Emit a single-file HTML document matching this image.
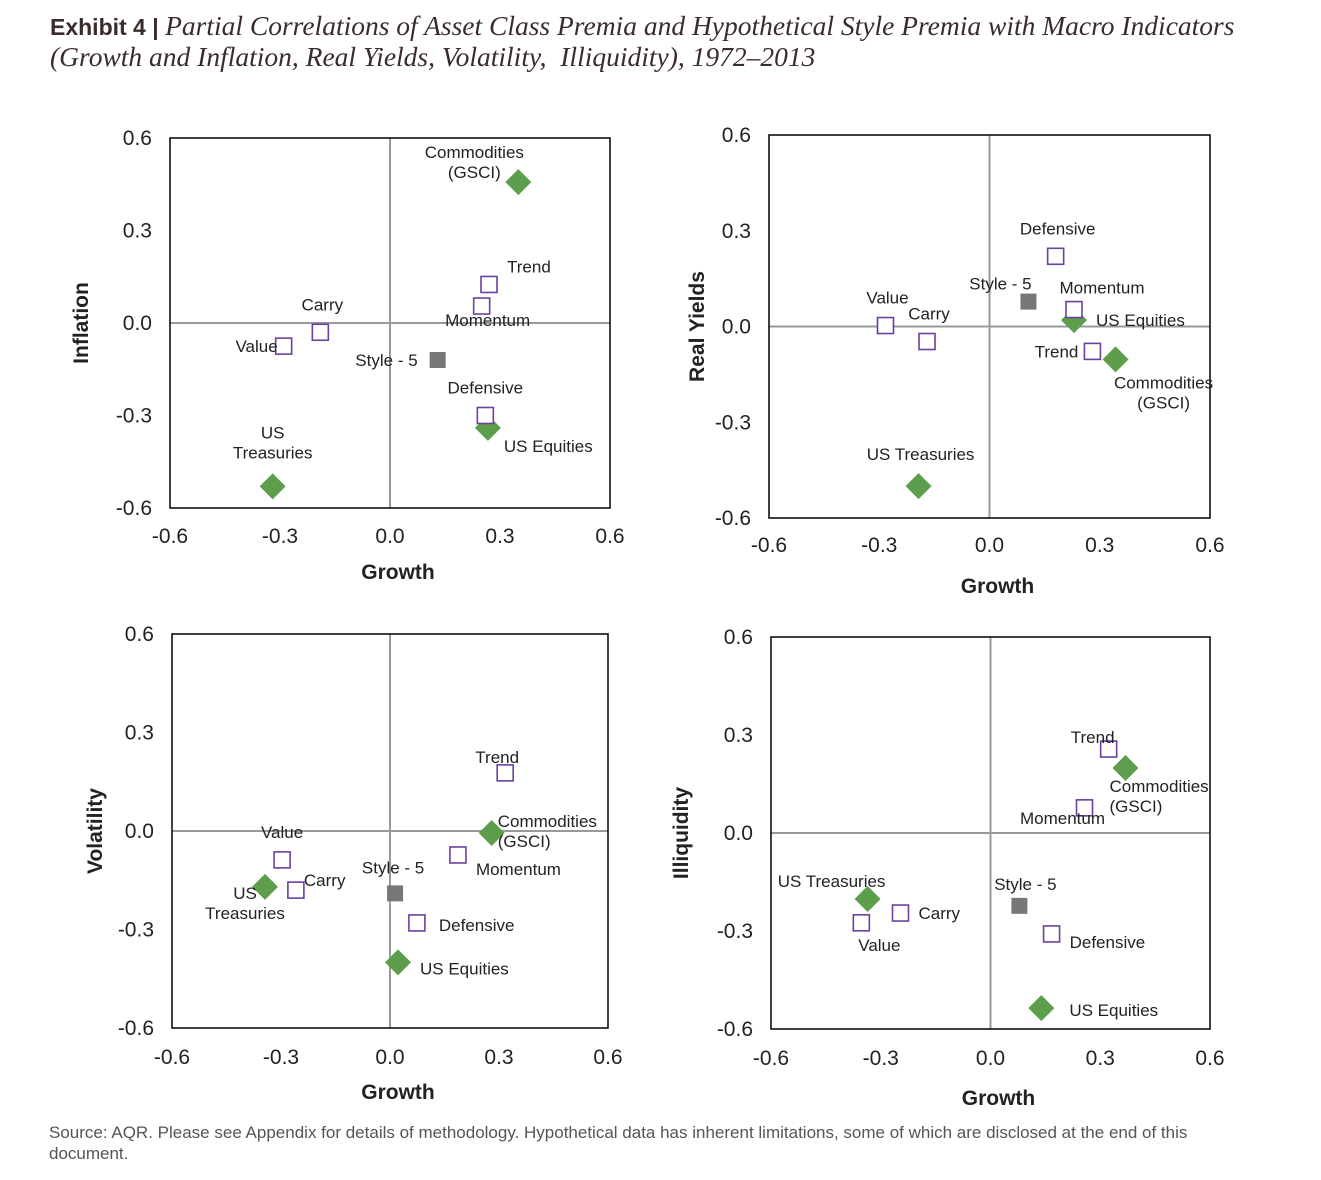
<!DOCTYPE html>
<html><head><meta charset="utf-8">
<style>
body{margin:0;background:#fff;width:1321px;height:1180px;overflow:hidden;position:relative;font-family:"Liberation Sans",sans-serif;}
.title{position:absolute;left:50px;top:11px;font-size:25px;color:#3b2b2b;line-height:30px;}
.title b{font-family:"Liberation Sans",sans-serif;font-weight:bold;font-size:23px}
.title i{font-family:"Liberation Serif",serif;font-size:27.5px}
.src{position:absolute;left:49px;top:1122px;font-size:17px;color:#555;width:1210px;line-height:21px}
svg{position:absolute;left:0;top:0}
</style></head><body>
<div class="title"><b>Exhibit 4 | </b><i>Partial Correlations of Asset Class Premia and Hypothetical Style Premia with Macro Indicators<br>(Growth and Inflation, Real Yields, Volatility,&nbsp; Illiquidity), 1972–2013</i></div>
<svg id="chart" width="1321" height="1180"></svg>
<div class="src">Source: AQR. Please see Appendix for details of methodology. Hypothetical data has inherent limitations, some of which are disclosed at the end of this document.</div>
<script>
const names=["Commodities","US Equities","US Treasuries","Value","Carry","Style - 5","Defensive","Momentum","Trend"];
const kinds=["asset","asset","asset","style","style","composite","style","style","style"];
const tickLabels=["-0.6","-0.3","0.0","0.3","0.6"];
const tickValues=[-0.6,-0.3,0,0.3,0.6];
const p1x=[0.35,0.267,-0.32,-0.29,-0.19,0.13,0.26,0.25,0.27];
const p1y=[0.457,-0.34,-0.53,-0.075,-0.03,-0.12,-0.30,0.055,0.125];
const p2x=[0.343,0.23,-0.193,-0.283,-0.17,0.106,0.18,0.23,0.28];
const p2y=[-0.103,0.02,-0.50,0.003,-0.047,0.078,0.22,0.053,-0.078];
const p3x=[0.28,0.022,-0.344,-0.297,-0.259,0.014,0.074,0.187,0.317];
const p3y=[-0.006,-0.40,-0.17,-0.088,-0.18,-0.19,-0.28,-0.073,0.177];
const p4x=[0.369,0.139,-0.336,-0.353,-0.246,0.079,0.167,0.257,0.323];
const p4y=[0.199,-0.536,-0.202,-0.275,-0.245,-0.223,-0.309,0.077,0.257];
// label offsets (layout only): [dx,dy,anchor,lines]
const L1=[[-44,-24,"middle",["Commodities","(GSCI)"]],[16,24,"start",["US Equities"]],[0,-48,"middle",["US","Treasuries"]],[-6,6,"end",["Value"]],[2,-22,"middle",["Carry"]],[-20,6,"end",["Style - 5"]],[0,-22,"middle",["Defensive"]],[6,20,"middle",["Momentum"]],[18,-12,"start",["Trend"]]];
const L2=[[48,29,"middle",["Commodities","(GSCI)"]],[22,6,"start",["US Equities"]],[2,-26,"middle",["US Treasuries"]],[2,-22,"middle",["Value"]],[2,-22,"middle",["Carry"]],[-28,-12,"middle",["Style - 5"]],[2,-22,"middle",["Defensive"]],[28,-16,"middle",["Momentum"]],[-14,6,"end",["Trend"]]];
const L3=[[6,-6,"start",["Commodities","(GSCI)"]],[22,12,"start",["US Equities"]],[-20,12,"middle",["US","Treasuries"]],[0,-22,"middle",["Value"]],[8,-4,"start",["Carry"]],[-2,-20,"middle",["Style - 5"]],[22,8,"start",["Defensive"]],[18,20,"start",["Momentum"]],[-8,-10,"middle",["Trend"]]];
const L4=[[-16,24,"start",["Commodities","(GSCI)"]],[28,8,"start",["US Equities"]],[-36,-12,"middle",["US Treasuries"]],[18,28,"middle",["Value"]],[18,6,"start",["Carry"]],[6,-16,"middle",["Style - 5"]],[18,14,"start",["Defensive"]],[-22,16,"middle",["Momentum"]],[-16,-6,"middle",["Trend"]]];
const panels=[
 {x0:170,x1:610,y0:138,y1:508,xs:p1x,ys:p1y,lab:L1,yt:"Inflation",ytx:88,tickX:152,xtY:543,xtitleY:579},
 {x0:769,x1:1210,y0:135,y1:518,xs:p2x,ys:p2y,lab:L2,yt:"Real Yields",ytx:704,tickX:751,xtY:552,xtitleY:593},
 {x0:172,x1:608,y0:634,y1:1028,xs:p3x,ys:p3y,lab:L3,yt:"Volatility",ytx:102,tickX:154,xtY:1064,xtitleY:1099},
 {x0:771,x1:1210,y0:637,y1:1029,xs:p4x,ys:p4y,lab:L4,yt:"Illiquidity",ytx:688,tickX:753,xtY:1065,xtitleY:1105}];
const svg=document.getElementById('chart');const NS="http://www.w3.org/2000/svg";
function mk(t,a,p){const e=document.createElementNS(NS,t);for(const k in a)e.setAttribute(k,a[k]);(p||svg).appendChild(e);return e;}
panels.forEach((P,pi)=>{
 const g=mk('g',{});
 
 
 const sx=v=>P.x0+(v+0.6)/1.2*(P.x1-P.x0);
 const sy=v=>P.y1-(v+0.6)/1.2*(P.y1-P.y0);
 mk('line',{x1:sx(0),x2:sx(0),y1:P.y0,y2:P.y1,stroke:'#999','stroke-width':2},g);
 mk('line',{x1:P.x0,x2:P.x1,y1:sy(0),y2:sy(0),stroke:'#999','stroke-width':2},g);
 const box=mk('rect',{x:P.x0,y:P.y0,width:P.x1-P.x0,height:P.y1-P.y0,fill:'none',stroke:'#000','stroke-width':1.5},g);
 
 
 tickValues.forEach((v,i)=>{
  const t=mk('text',{x:P.tickX,y:sy(v)+7,'text-anchor':'end','font-size':21,fill:'#222'},g);t.textContent=tickLabels[i];
  
  
  const u=mk('text',{x:sx(v),y:P.xtY,'text-anchor':'middle','font-size':21,fill:'#222'},g);u.textContent=tickLabels[i];
  
  
 });
 const xt=mk('text',{x:(P.x0+P.x1)/2+8,y:P.xtitleY,'text-anchor':'middle','font-size':21,'font-weight':'bold',fill:'#222'},g);xt.textContent="Growth";
 
 
 const cy=(P.y0+P.y1)/2;
 const yt=mk('text',{x:P.ytx,y:cy,'text-anchor':'middle','font-size':21,'font-weight':'bold',fill:'#222',transform:`rotate(-90 ${P.ytx} ${cy})`},g);yt.textContent=P.yt;
 
 
 names.forEach((n,i)=>{
  const X=sx(P.xs[i]),Y=sy(P.ys[i]);let m;
  if(kinds[i]==='asset')m=mk('polygon',{points:`${X},${Y-13} ${X+13},${Y} ${X},${Y+13} ${X-13},${Y}`,fill:'#5d9e4c'},g);
  else if(kinds[i]==='composite')m=mk('rect',{x:X-8,y:Y-8,width:16,height:16,fill:'#777'},g);
  else m=mk('rect',{x:X-8,y:Y-8,width:16,height:16,fill:'#fff',stroke:'#6b3fa0','stroke-width':1.6},g);
  
  
  const l=P.lab[i];
  l[3].forEach((s,k)=>{
   const t=mk('text',{x:X+l[0],y:Y+l[1]+k*20,'text-anchor':l[2],'font-size':17,fill:'#222'},g);t.textContent=s;
   
   
  });
 });
});
</script>
</body></html>
